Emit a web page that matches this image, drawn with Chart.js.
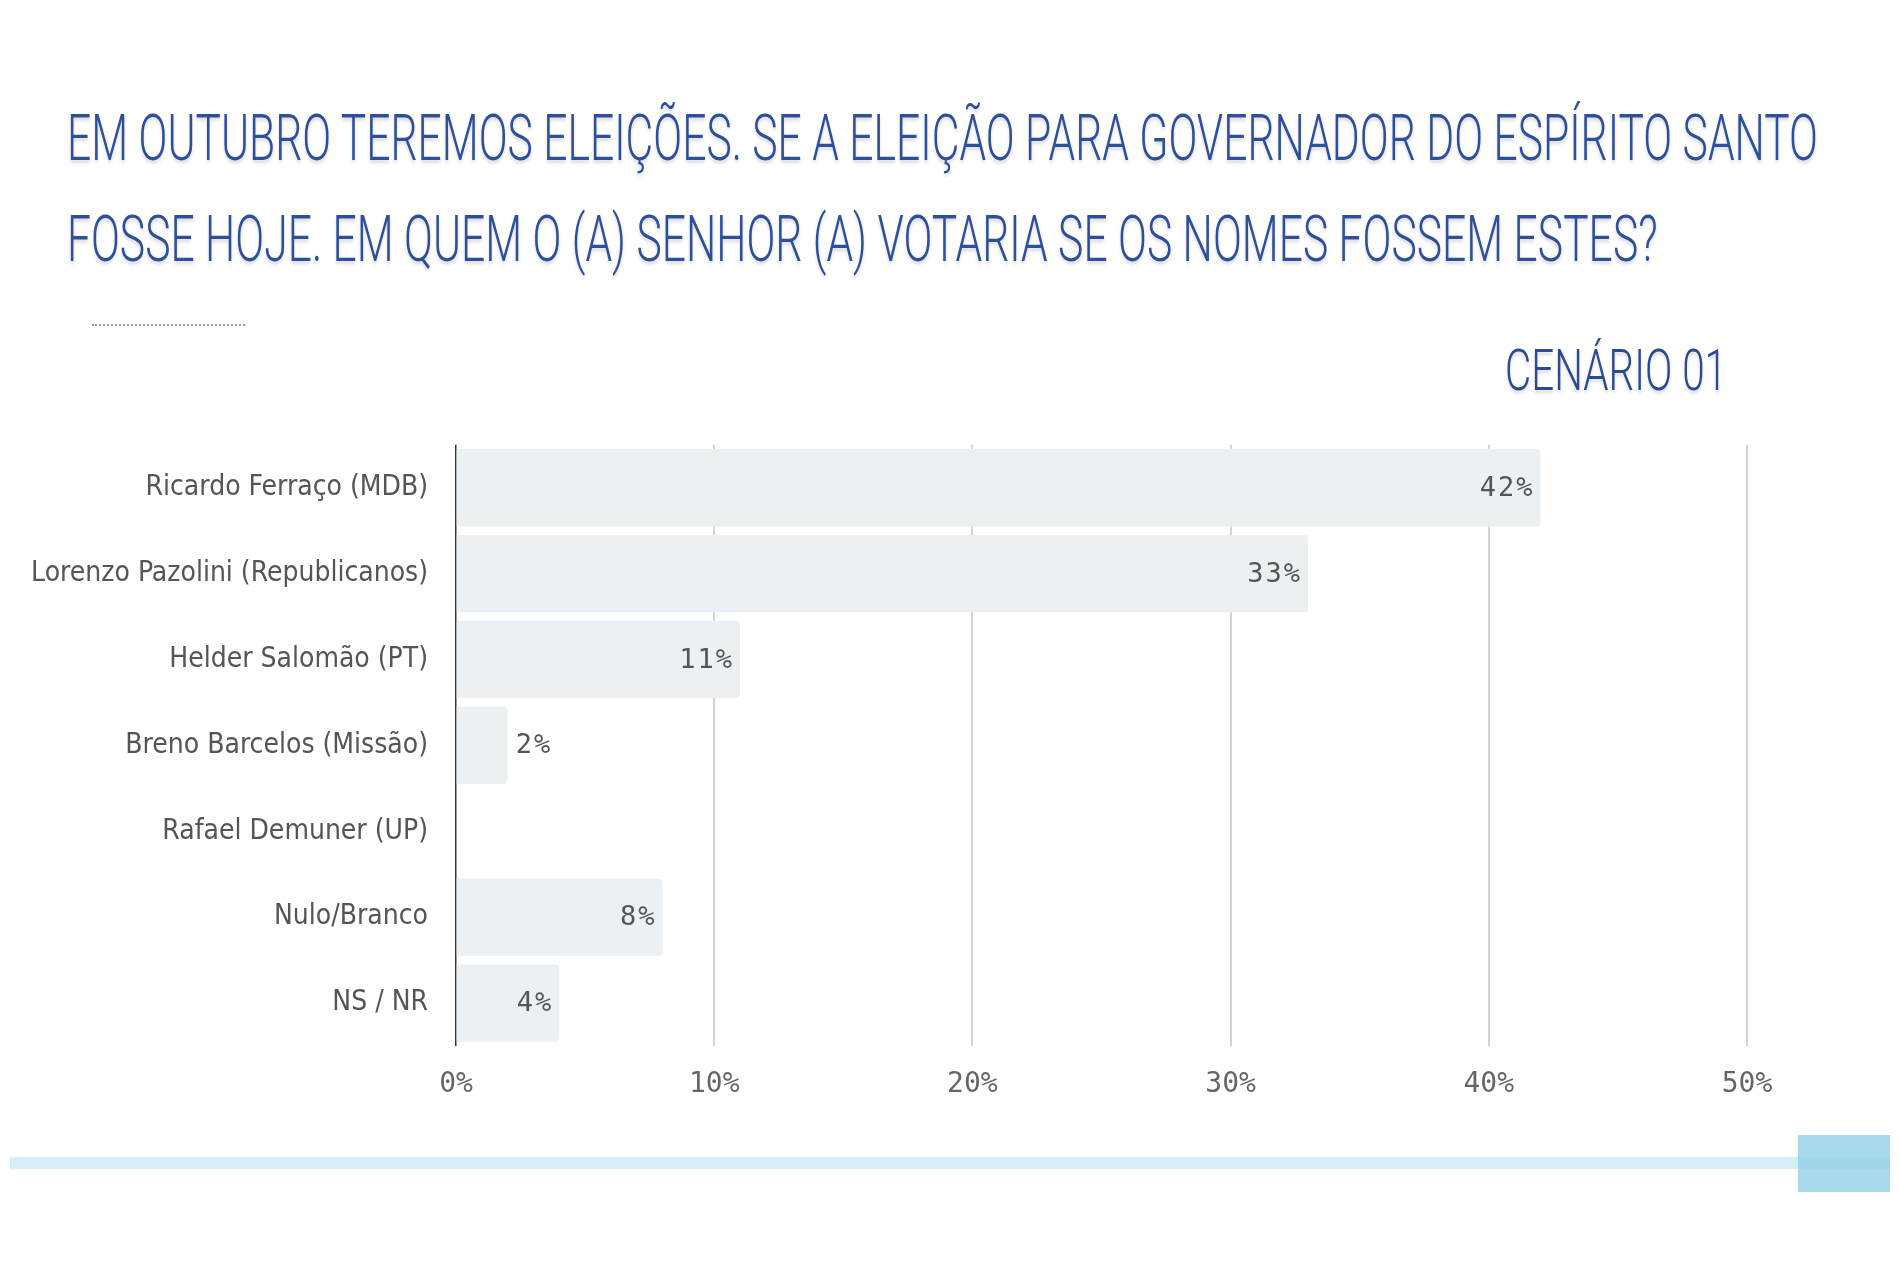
<!DOCTYPE html>
<html>
<head>
<meta charset="utf-8">
<script src="https://cdn.jsdelivr.net/npm/chart.js@4.4.1/dist/chart.umd.min.js"></script>
<style>
  html, body { margin: 0; padding: 0; background: #fff; }
  body { width: 1900px; height: 1267px; position: relative; overflow: hidden; }
  .title-line, .scenario {
    position: absolute;
    white-space: nowrap;
    font-family: Roboto, "Noto Sans", sans-serif;
    font-weight: 300;
    color: #2e4f9e;
    line-height: 1;
    transform-origin: 0 0;
    text-shadow: 0 3px 4px rgba(0, 0, 0, 0.15);
  }
  .title-line { left: 67px; font-size: 64px; }
  .scenario { left: 1505px; top: 341px; font-size: 58px; color: #2c4a94; }
  .dots { position: absolute; left: 92px; top: 324px; width: 153px; border-top: 2px dotted #8a9cc6; }
  .chart-box { position: absolute; left: 0; top: 400px; width: 1900px; height: 720px; }
  .bottom-line { position: absolute; left: 10px; top: 1157px; width: 1880px; height: 12px; background: #d6eef6; }
  .bottom-square { position: absolute; left: 1798px; top: 1135px; width: 92px; height: 57px; background: rgba(140, 205, 228, 0.75); }
</style>
</head>
<body>
<div class="title-line" id="line1" style="top:107px">EM OUTUBRO TEREMOS ELEIÇÕES. SE A ELEIÇÃO PARA GOVERNADOR DO ESPÍRITO SANTO</div>
<div class="title-line" id="line2" style="top:208px">FOSSE HOJE. EM QUEM O (A) SENHOR (A) VOTARIA SE OS NOMES FOSSEM ESTES?</div>
<div class="dots"></div>
<div class="scenario" id="scenario">CENÁRIO 01</div>
<div class="chart-box"><canvas id="myChart"></canvas></div>
<div class="bottom-line"></div>
<div class="bottom-square"></div>

<script>
const categories = [
    "Ricardo Ferraço (MDB)",
    "Lorenzo Pazolini (Republicanos)",
    "Helder Salomão (PT)",
    "Breno Barcelos (Missão)",
    "Rafael Demuner (UP)",
    "Nulo/Branco",
    "NS / NR"
];
const values = [42, 33, 11, 2, 0, 8, 4];
const tickValues = [0, 10, 20, 30, 40, 50];

const labelFont = '"Liberation Sans Narrow", "DejaVu Sans Condensed", "Noto Sans", sans-serif';
const monoFont = '"DejaVu Sans Mono", "Liberation Mono", monospace';

// squeeze the title lines horizontally so they fill the same width as the original
const fitWidth = (el, target) => {
    const w = el.getBoundingClientRect().width;
    const k = target / w;
    el.style.transform = "scaleX(" + k + ")";
    return k;
};
const k = fitWidth(document.getElementById("line1"), 1751);
document.getElementById("line2").style.transform = "scaleX(" + k + ")";
fitWidth(document.getElementById("scenario"), 222);

// value labels: at the end inside the bar, or just after it when the bar is too short
const valueLabels = {
    id: "valueLabels",
    afterDatasetsDraw(chart) {
        const ctx = chart.ctx;
        const meta = chart.getDatasetMeta(0);
        ctx.save();
        ctx.font = "27px " + monoFont;
        ctx.letterSpacing = "2px";
        ctx.fillStyle = "#555";
        ctx.textBaseline = "middle";
        meta.data.forEach((bar, i) => {
            const v = values[i];
            if (!v) return;
            const text = v + "%";
            const tw = ctx.measureText(text).width;
            const barW = bar.x - bar.base;
            if (barW > tw + 24) {
                ctx.textAlign = "right";
                ctx.fillText(text, bar.x - 6, bar.y + 1);
            } else {
                ctx.textAlign = "left";
                ctx.fillText(text, bar.x + 8, bar.y + 1);
            }
        });
        ctx.restore();
    }
};

const ctx = document.getElementById("myChart");

const myChart = new Chart(ctx, {
    type: "bar",
    data: {
        labels: categories,
        datasets: [{
            data: values,
            backgroundColor: "#edf0f2",
            borderWidth: 0,
            borderRadius: 4,
            borderSkipped: "start",
            barPercentage: 0.9,
            categoryPercentage: 1.0
        }]
    },
    options: {
        indexAxis: "y",
        responsive: true,
        maintainAspectRatio: false,
        animation: false,
        devicePixelRatio: 1,
        layout: { padding: { top: 20, right: 153, bottom: 14, left: 0 } },
        plugins: {
            legend: { display: false },
            tooltip: { enabled: false }
        },
        scales: {
            x: {
                min: 0,
                max: 50,
                afterBuildTicks: (scale) => {
                    scale.ticks = tickValues.map(v => ({ value: v }));
                },
                afterFit: (scale) => { scale.height = 60; },
                ticks: {
                    callback: (v) => v + "%",
                    font: { family: monoFont, size: 28 },
                    color: "#666",
                    padding: 22,
                    maxRotation: 0
                },
                grid: {
                    drawTicks: false,
                    lineWidth: (c) => (c.tick && c.tick.value === 0) ? 1.5 : 2,
                    color: (c) => (c.tick && c.tick.value === 0) ? "#333" : "#d4d4d4"
                },
                border: { display: false }
            },
            y: {
                afterFit: (scale) => { scale.width = 456; },
                ticks: {
                    font: { family: labelFont, size: 28 },
                    color: "#555",
                    padding: 28
                },
                grid: { display: false, drawTicks: false },
                border: { display: false }
            }
        }
    },
    plugins: [valueLabels]
});
</script>
</body>
</html>
